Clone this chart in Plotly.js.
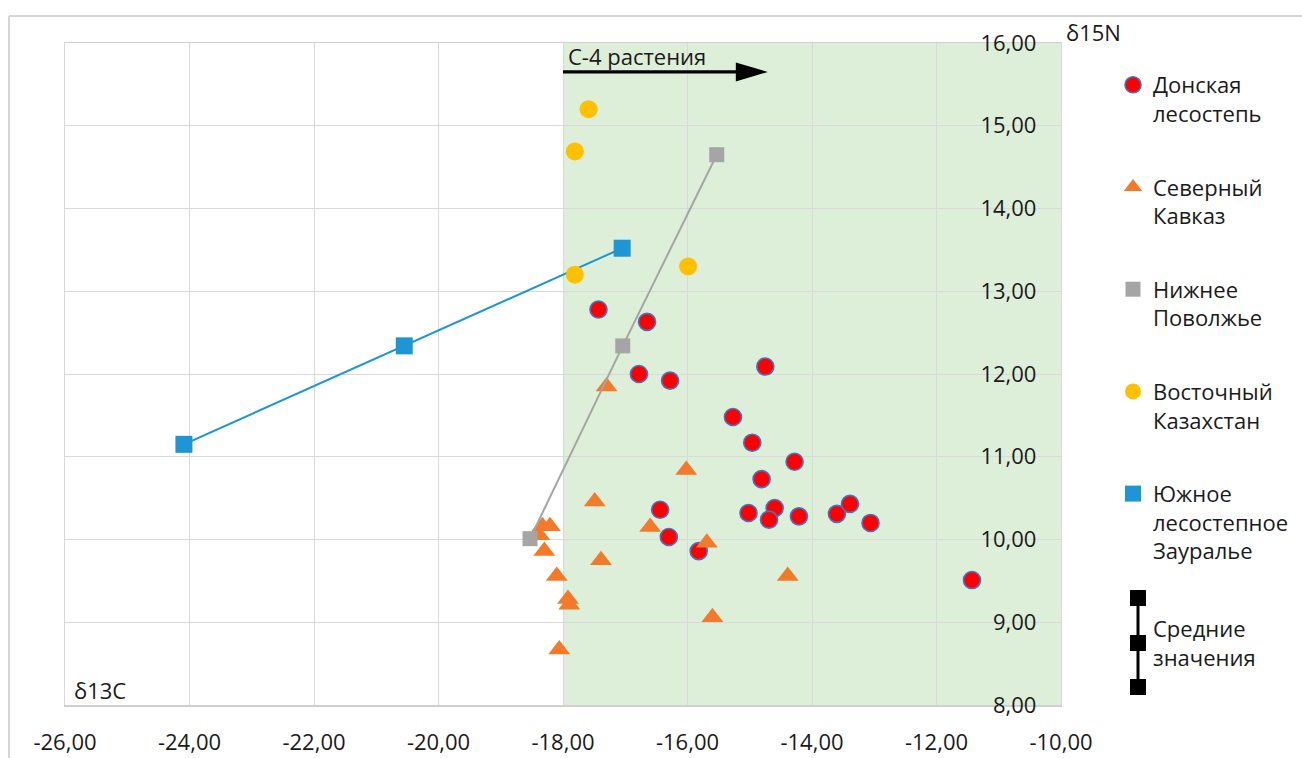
<!DOCTYPE html>
<html>
<head>
<meta charset="utf-8">
<script src="https://cdn.plot.ly/plotly-3.0.1.min.js"></script>
<style>html,body{margin:0;padding:0;background:#fff;}#chart{width:1302px;height:758px;}</style>
</head>
<body>
<div id="chart"></div>
<script>
// ---- data ----
const seriesNames = ["Донская<br>лесостепь", "Северный<br>Кавказ", "Нижнее<br>Поволжье", "Восточный<br>Казахстан", "Южное<br>лесостепное<br>Зауралье"];
const meanLabel = "Средние<br>значения";
const arrowLabel = "С-4 растения";
const xAxisLabel = "δ13C";
const yAxisLabel = "δ15N";

const donX = [-17.43,-16.65,-16.78,-16.28,-14.75,-15.27,-14.96,-14.28,-14.81,-15.02,-14.60,-14.69,-14.21,-13.60,-13.39,-13.06,-11.43,-16.44,-16.30,-15.82];
const donY = [12.78,12.63,12.00,11.92,12.09,11.48,11.17,10.94,10.73,10.32,10.38,10.24,10.28,10.31,10.43,10.20,9.51,10.36,10.03,9.86];

const kavX = [-17.30,-16.02,-17.49,-16.60,-15.69,-18.33,-18.21,-18.38,-18.30,-17.39,-18.10,-17.92,-17.90,-15.60,-18.06,-14.39];
const kavY = [11.85,10.84,10.46,10.15,9.96,10.16,10.16,10.05,9.86,9.75,9.56,9.28,9.21,9.06,8.67,9.56];

const povX = [-18.53,-17.04,-15.53];
const povY = [10.01,12.34,14.65];

const kazX = [-17.59,-17.81,-17.81,-15.99];
const kazY = [15.20,14.69,13.20,13.30];

const zauX = [-24.09,-20.55,-17.05];
const zauY = [11.15,12.34,13.52];

const c4Start = -18, c4End = -10;
const arrowY = 15.65, arrowTipX = -14.71;

const xTickVals = [-26,-24,-22,-20,-18,-16,-14,-12,-10];
const xTickText = ["-26,00","-24,00","-22,00","-20,00","-18,00","-16,00","-14,00","-12,00","-10,00"];
const yTickVals = [8,9,10,11,12,13,14,15,16];
const yTickText = ["8,00","9,00","10,00","11,00","12,00","13,00","14,00","15,00","16,00"];

// ---- layout helpers (pixel -> paper) ----
const M = {l:65, r:241, t:43, b:53};
const W = 1302, H = 758;
const PW = W - M.l - M.r, PH = H - M.t - M.b;
const px = v => (v - M.l) / PW;
const py = v => (H - M.b - v) / PH;

const FONT = "Open Sans, DejaVu Sans, sans-serif";
const TXT = "#1a1a1a";

// drawing order (bottom to top): red, orange, grey, blue, yellow; legend order via legendrank
const traces = [
  {x: donX, y: donY, name: seriesNames[0], mode: "markers", type: "scatter", legendgroup: "g1", legendrank: 1,
   marker: {symbol: "circle", size: 17, color: "#ff0000", line: {color: "#4472c4", width: 1.6}}},
  {x: kavX, y: kavY, name: seriesNames[1], mode: "markers", type: "scatter", legendgroup: "g2", legendrank: 2,
   marker: {symbol: "triangle-up", size: 19, color: "#f47a2b", line: {width: 0}}},
  {x: povX, y: povY, name: seriesNames[2], mode: "lines", type: "scatter", showlegend: false, legendgroup: "g3", legendrank: 3,
   line: {color: "#a5a5a5", width: 2}},
  {x: povX, y: povY, name: seriesNames[2], mode: "markers", type: "scatter", legendgroup: "g3", legendrank: 3,
   marker: {symbol: "square", size: 15, color: "#a5a5a5", line: {width: 0}}},
  {x: zauX, y: zauY, name: seriesNames[4], mode: "lines", type: "scatter", showlegend: false, legendgroup: "g5", legendrank: 5,
   line: {color: "#1e96d6", width: 2}},
  {x: zauX, y: zauY, name: seriesNames[4], mode: "markers", type: "scatter", legendgroup: "g5", legendrank: 5,
   marker: {symbol: "square", size: 17, color: "#1e96d6", line: {width: 0}}},
  {x: kazX, y: kazY, name: seriesNames[3], mode: "markers", type: "scatter", legendgroup: "g4", legendrank: 4,
   marker: {symbol: "circle", size: 18, color: "#ffc000", line: {width: 0}}}
];

const shapes = [
  {type: "rect", xref: "x", yref: "paper", x0: c4Start, x1: c4End, y0: 0, y1: 1,
   fillcolor: "#ddefd8", line: {width: 0}, layer: "below"},
  {type: "line", xref: "x", yref: "y", x0: c4Start, x1: arrowTipX - 0.45, y0: arrowY, y1: arrowY,
   line: {color: "#000", width: 3.2}},
  {type: "path", xref: "x", yref: "y", xsizemode: "pixel", ysizemode: "pixel",
   xanchor: arrowTipX, yanchor: arrowY, path: "M0,0 L-32,9.5 L-32,-9.5 Z",
   fillcolor: "#000", line: {width: 0}},
  {type: "line", xref: "paper", yref: "paper", x0: px(9), x1: px(1302), y0: py(16), y1: py(16),
   line: {color: "#d6d6d6", width: 2}},
  {type: "line", xref: "paper", yref: "paper", x0: px(9), x1: px(9), y0: py(16), y1: py(758),
   line: {color: "#d6d6d6", width: 2}},
  {type: "line", xref: "paper", yref: "paper", x0: px(1138), x1: px(1138), y0: py(598), y1: py(687),
   line: {color: "#000", width: 3}}
];
[598, 643, 687].forEach(c => {
  shapes.push({type: "rect", xref: "paper", yref: "paper", x0: px(1130), x1: px(1146),
    y0: py(c - 8), y1: py(c + 8), fillcolor: "#000", line: {width: 0}});
});

const annotations = [
  {text: arrowLabel, xref: "x", yref: "y", x: c4Start, y: 15.84, xanchor: "left", yanchor: "middle",
   xshift: 3, showarrow: false, font: {family: FONT, size: 22, color: TXT}},
  {text: yAxisLabel, xref: "paper", yref: "paper", x: px(1064), y: py(32), xanchor: "left", yanchor: "middle",
   showarrow: false, font: {family: FONT, size: 22, color: TXT}},
  {text: xAxisLabel, xref: "paper", yref: "paper", x: px(72), y: py(690), xanchor: "left", yanchor: "middle",
   showarrow: false, font: {family: FONT, size: 22, color: TXT}},
  {text: meanLabel, xref: "paper", yref: "paper", x: px(1151), y: py(642), xanchor: "left", yanchor: "middle",
   align: "left", showarrow: false, font: {family: FONT, size: 22, color: TXT}}
];

const layout = {
  width: W, height: H,
  margin: M,
  paper_bgcolor: "#fff", plot_bgcolor: "#fff",
  font: {family: FONT, size: 22, color: TXT},
  showlegend: true,
  legend: {xref: "container", yref: "paper", x: 1113 / W, y: py(64),
    xanchor: "left", yanchor: "top", valign: "top",
    traceorder: "grouped", tracegroupgap: 42, itemclick: false,
    font: {family: FONT, size: 22, color: TXT}, bgcolor: "rgba(0,0,0,0)"},
  xaxis: {range: [-26, -10], tickvals: xTickVals, ticktext: xTickText, showgrid: true,
    gridcolor: "#d9d9d9", gridwidth: 1, zeroline: false, showline: true, linecolor: "#d0d0d0",
    linewidth: 1.5, mirror: true, ticks: "", ticklabelstandoff: 17,
    tickfont: {family: FONT, size: 22, color: TXT}, fixedrange: true},
  yaxis: {range: [8, 16], tickvals: yTickVals, ticktext: yTickText, side: "right",
    ticklabelposition: "inside", ticklabeloverflow: "allow", ticklabelstandoff: 26,
    showgrid: true, gridcolor: "#d9d9d9", gridwidth: 1, zeroline: false, showline: true,
    linecolor: "#d9d9d9", linewidth: 1, mirror: true, ticks: "",
    tickfont: {family: FONT, size: 22, color: TXT}, fixedrange: true},
  shapes: shapes,
  annotations: annotations
};

Plotly.newPlot("chart", traces, layout, {displayModeBar: false, staticPlot: true});
</script>
</body>
</html>
